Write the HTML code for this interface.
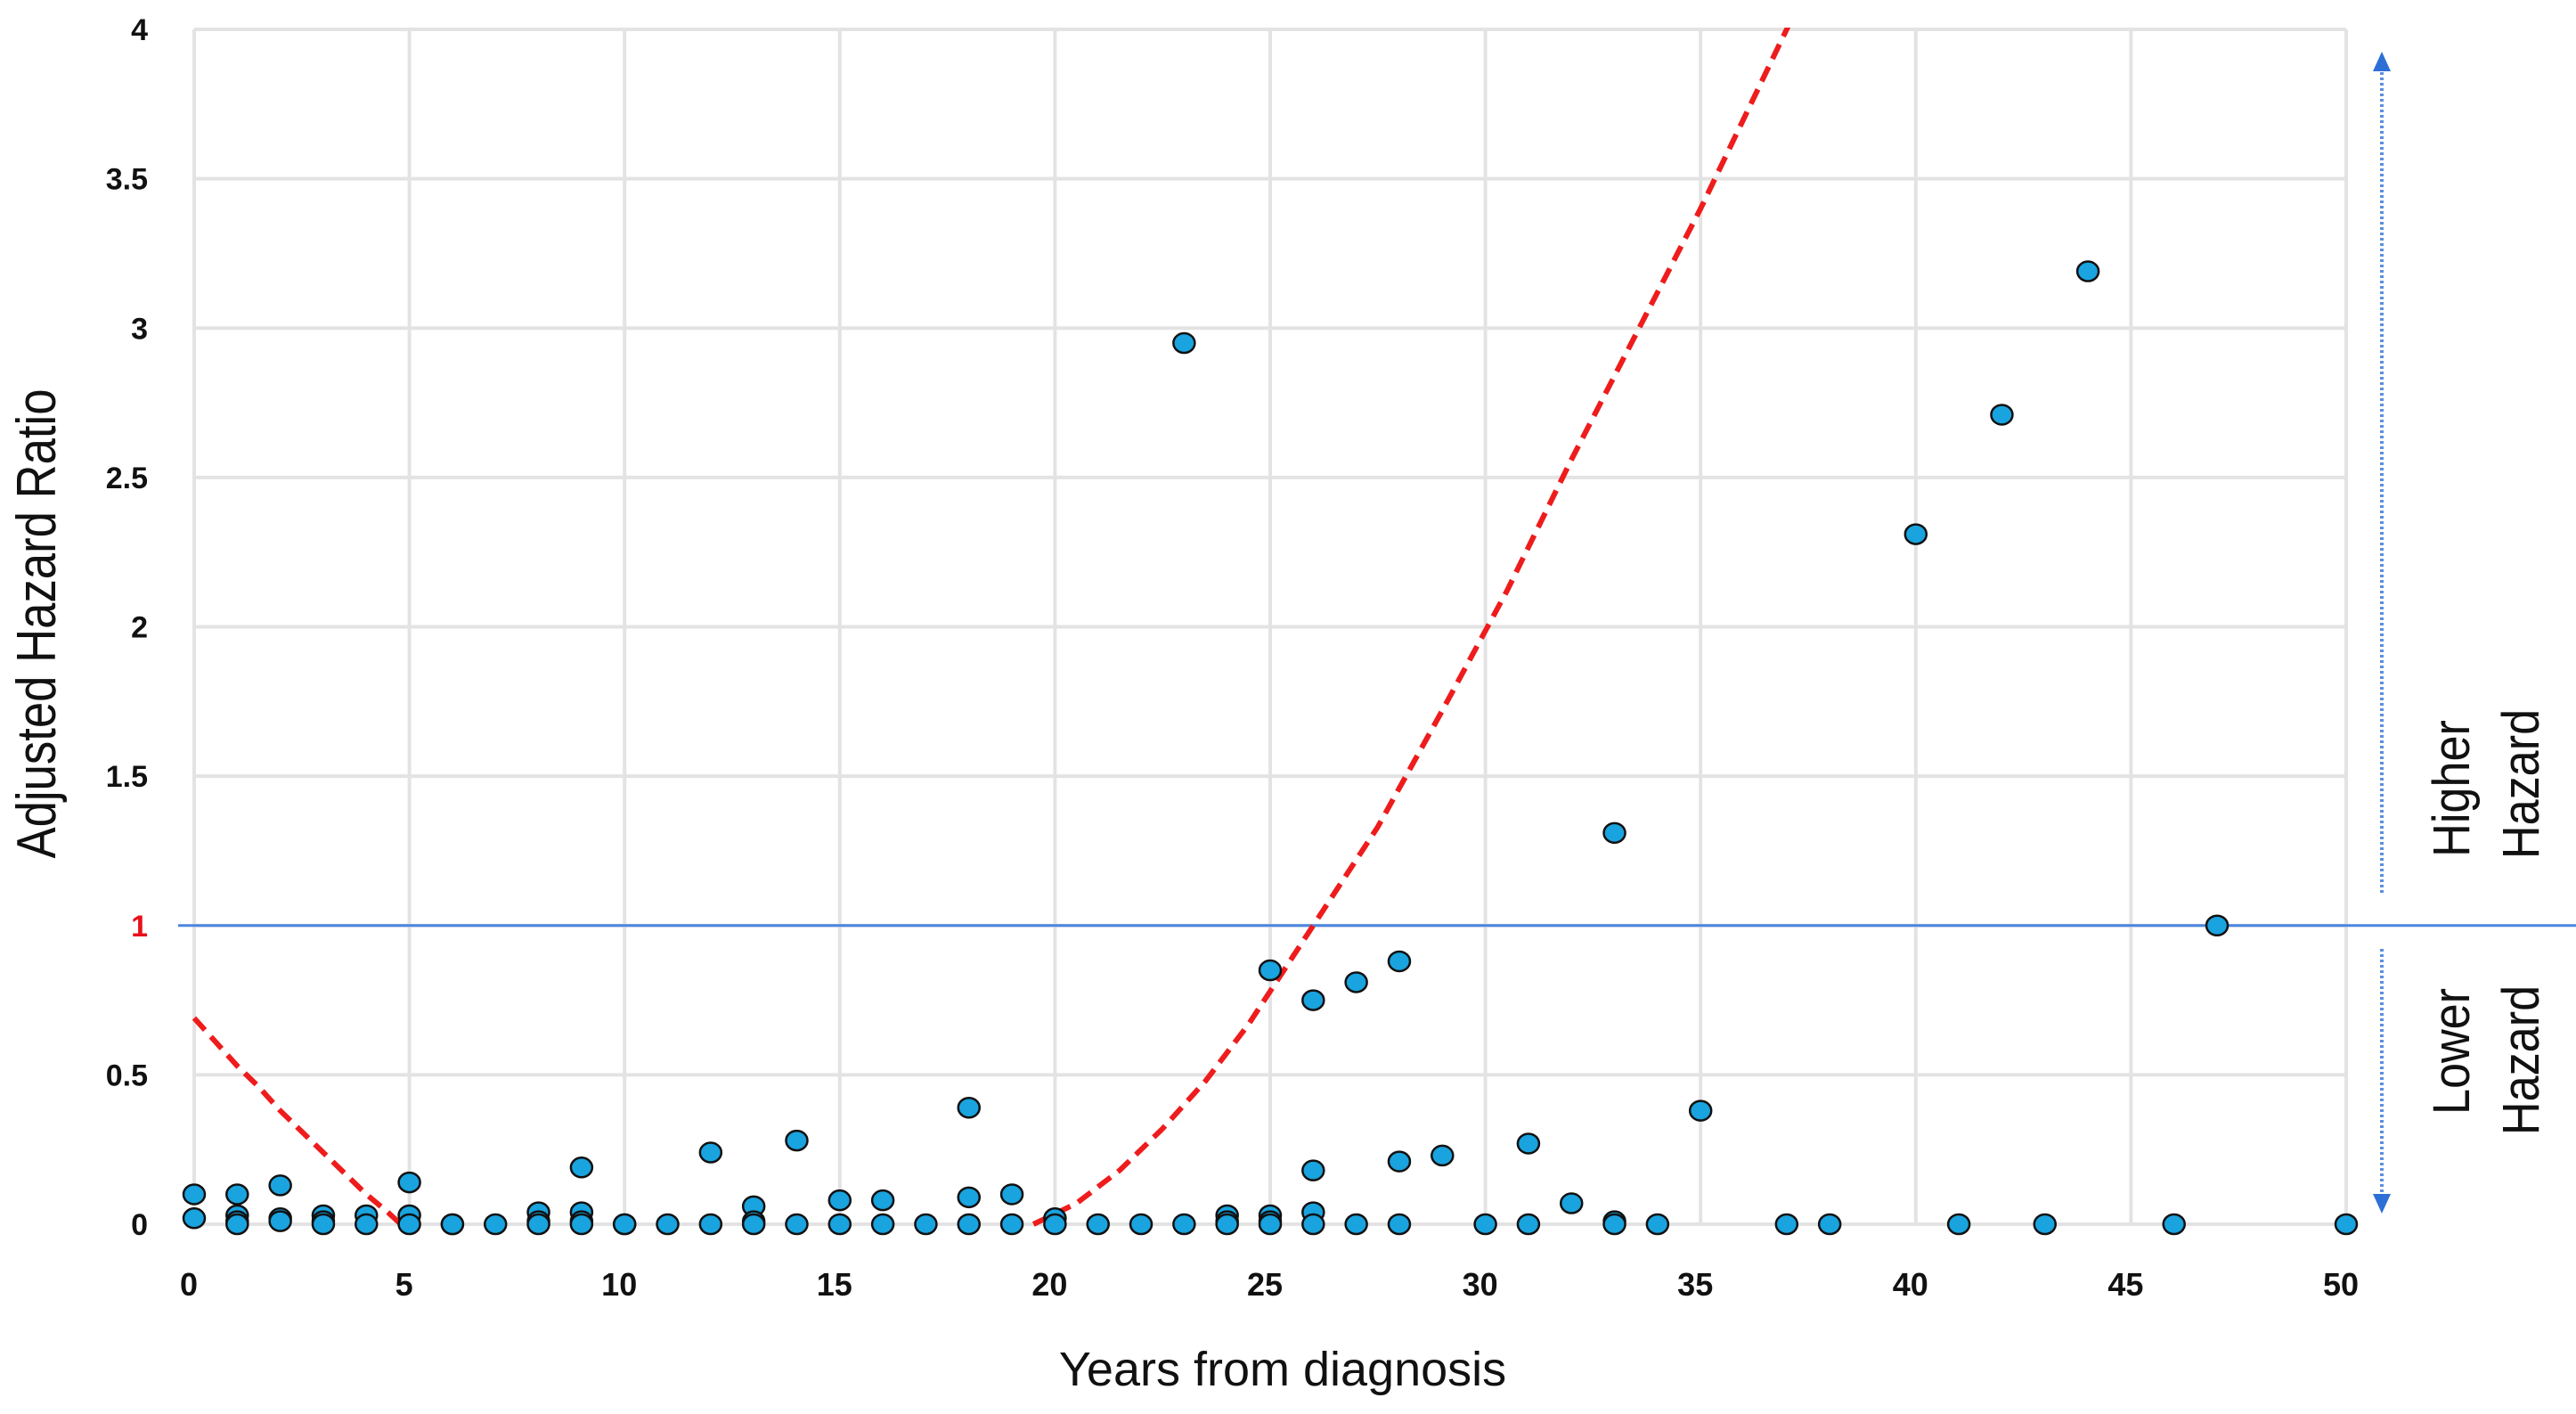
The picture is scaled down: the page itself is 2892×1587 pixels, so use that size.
<!DOCTYPE html>
<html><head><meta charset="utf-8"><style>
html,body{margin:0;padding:0;background:#fff;width:2892px;height:1587px;overflow:hidden}
svg text{font-family:"Liberation Sans",sans-serif}
</style></head><body>
<svg id="chart" width="2892" height="1587" viewBox="0 0 2892 1587" xmlns="http://www.w3.org/2000/svg"></svg>
<script>
const xTicks=[0,5,10,15,20,25,30,35,40,45,50];
const yTicks=[0,0.5,1,1.5,2,2.5,3,3.5,4];
const yTickLabels=["0","0.5","1","1.5","2","2.5","3","3.5","4"];
const pointYears=[0,0,1,1,1,1,2,2,2,3,3,3,4,4,5,5,5,6,6,7,8,8,8,9,9,9,9,10,10,11,12,12,13,13,13,14,14,15,15,16,16,17,18,18,18,19,19,20,20,21,22,23,23,24,24,24,25,25,25,25,26,26,26,26,27,27,28,28,28,29,30,31,31,32,33,33,33,34,35,37,38,40,41,42,43,44,46,47,50];
const pointHR=[0.1,0.02,0.1,0.03,0.01,0,0.13,0.02,0.01,0.03,0.01,0,0.03,0,0.14,0.03,0,0,0,0,0.04,0.01,0,0.19,0.04,0.01,0,0,0,0,0.24,0,0.06,0.01,0,0.28,0,0.08,0,0.08,0,0,0.39,0.09,0,0.1,0,0.02,0,0,0,2.95,0,0.03,0.01,0,0.85,0.03,0.01,0,0.75,0.18,0.04,0,0.81,0,0.88,0.21,0,0.23,0,0.27,0,0.07,1.31,0.01,0,0,0.38,0,0,2.31,0,2.71,0,3.19,0,1.0,0];
const trend1X=[0,0.5,1,1.5,2,2.5,3,3.5,4,4.5,4.8];
const trend1Y=[0.69,0.61,0.53,0.46,0.38,0.31,0.24,0.17,0.1,0.04,0];
const trend2X=[19.5,20.5,21.5,22.5,23.5,24.5,26,27.5,29,30.5,32,33.5,35,36.5,37.5];
const trend2Y=[0,0.07,0.18,0.32,0.48,0.67,1.0,1.33,1.72,2.12,2.56,2.98,3.4,3.85,4.15];

const NS="http://www.w3.org/2000/svg";
const svg=document.getElementById('chart');
const L=218,R=2634,T=33,B=1374;
const sx=v=>L+(v/50)*(R-L);
const sy=v=>B-(v/4)*(B-T);
function mk(tag,attrs,parent){const e=document.createElementNS(NS,tag);for(const k in attrs)e.setAttribute(k,attrs[k]);(parent||svg).appendChild(e);return e;}

const grid=mk('g',{});


xTicks.forEach(t=>{const l=mk('line',{x1:sx(t),x2:sx(t),y1:T,y2:B,stroke:'#e3e3e3','stroke-width':4},grid);

});
yTicks.forEach(t=>{const l=mk('line',{x1:L,x2:R,y1:sy(t),y2:sy(t),stroke:'#e3e3e3','stroke-width':4},grid);

});

yTicks.forEach((t,i)=>{const tx=mk('text',{x:166,y:sy(t)+12,'text-anchor':'end','font-size':34,'font-weight':'bold',fill:t===1?'#e8101a':'#111'});
tx.textContent=yTickLabels[i];

});
xTicks.forEach(t=>{const tx=mk('text',{x:sx(t)-6,y:1454,'text-anchor':'middle','font-size':36,'font-weight':'bold',fill:'#111'});
tx.textContent=String(t);

});

const ref=mk('line',{x1:200,x2:2892,y1:sy(1),y2:sy(1),stroke:'#4a86e0','stroke-width':3});



function poly(xs,ys){return xs.map((x,i)=>sx(x)+','+sy(ys[i])).join(' ');}
const clip=mk('clipPath',{id:'pc'});mk('rect',{x:0,y:T-2,width:2892,height:B},clip);
const c1=mk('polyline',{points:poly(trend1X,trend1Y),fill:'none',stroke:'#ee1c1c','stroke-width':6,'stroke-dasharray':'18,10'});


const c2=mk('polyline',{points:poly(trend2X,trend2Y),fill:'none',stroke:'#ee1c1c','stroke-width':6,'stroke-dasharray':'18,10','clip-path':'url(#pc)'});



const pts=mk('g',{});


pointYears.forEach((x,i)=>{const c=mk('ellipse',{cx:sx(x),cy:sy(pointHR[i]),rx:12,ry:11,fill:'#19a3df',stroke:'#111','stroke-width':2.5},pts);

});

const arr=mk('g',{});


mk('line',{x1:2674,x2:2674,y1:75,y2:1005,stroke:'#5b8fe0','stroke-width':4,'stroke-dasharray':'3,3'},arr);
mk('polygon',{points:'2674,58 2664,80 2684,80',fill:'#2d6fd6'},arr);
mk('line',{x1:2674,x2:2674,y1:1065,y2:1345,stroke:'#5b8fe0','stroke-width':4,'stroke-dasharray':'3,3'},arr);
mk('polygon',{points:'2674,1362 2664,1340 2684,1340',fill:'#2d6fd6'},arr);

function vtext(txt,x,y,name){const t=mk('text',{x:0,y:0,transform:`translate(${x},${y}) rotate(-90) scale(0.9,1)`,'text-anchor':'middle','font-size':58,fill:'#111'});
t.textContent=txt;

}
vtext('Higher',2772,885,'higher-label');
vtext('Hazard',2850,880,'higher-hazard-label');
vtext('Lower',2772,1180,'lower-label');
vtext('Hazard',2850,1190,'lower-hazard-label');
const yt=mk('text',{x:0,y:0,transform:'translate(62,700) rotate(-90) scale(0.85,1)','text-anchor':'middle','font-size':62,fill:'#111'});
yt.textContent='Adjusted Hazard Ratio';


const xt=mk('text',{x:1440,y:1555,'text-anchor':'middle','font-size':54,fill:'#111'});
xt.textContent='Years from diagnosis';


</script>
</body></html>
